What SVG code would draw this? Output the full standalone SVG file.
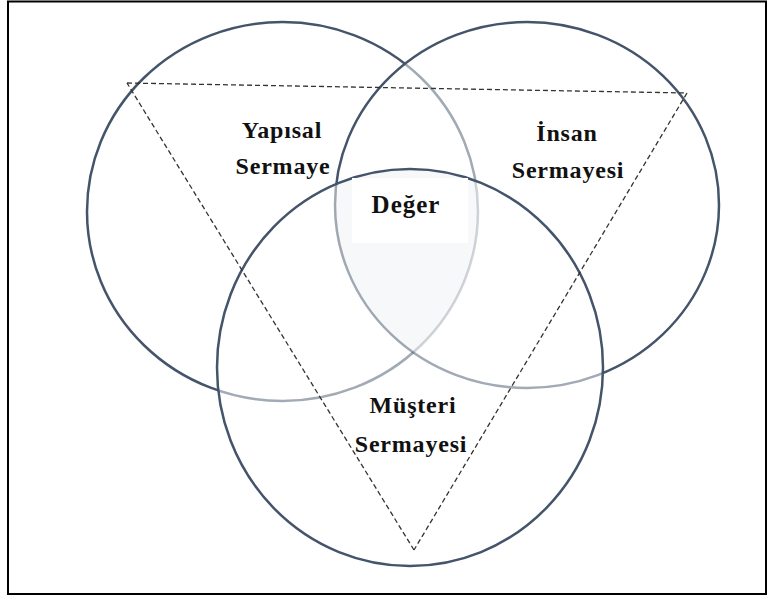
<svg xmlns="http://www.w3.org/2000/svg" width="775" height="599" viewBox="0 0 775 599">
  <style>
    .circle { fill: none; stroke: #44546A; stroke-width: 2.5; }
    .label { font-family: "Liberation Serif", "Times New Roman", serif; font-weight: bold; font-size: 24px; fill: #111; text-anchor: middle; letter-spacing: 0.8px; }
    .dash { fill: none; stroke: #333; stroke-width: 1.3; stroke-dasharray: 5 3; }
  </style>
  <defs>
    <clipPath id="clipLeft"><ellipse cx="282.5" cy="211.5" rx="195.5" ry="189.5"/></clipPath>
    <clipPath id="clipRight"><ellipse cx="527" cy="205" rx="192" ry="183"/></clipPath>
    <mask id="maskLeft" maskUnits="userSpaceOnUse" x="0" y="0" width="775" height="599">
      <rect x="0" y="0" width="775" height="599" fill="#fff"/>
      <ellipse cx="527" cy="205" rx="192" ry="183" fill="#000" fill-opacity="0.5"/>
      <ellipse cx="410" cy="367.5" rx="193" ry="198.5" fill="#000" fill-opacity="0.5"/>
    </mask>
    <mask id="maskRight" maskUnits="userSpaceOnUse" x="0" y="0" width="775" height="599">
      <rect x="0" y="0" width="775" height="599" fill="#fff"/>
      <ellipse cx="410" cy="367.5" rx="193" ry="198.5" fill="#000" fill-opacity="0.5"/>
    </mask>
  </defs>

  <rect x="8" y="1.5" width="758" height="592.5" fill="#fff" stroke="#000" stroke-width="2"/>

  <g id="center-region">
    <g clip-path="url(#clipRight)">
      <g clip-path="url(#clipLeft)">
        <ellipse cx="410" cy="367.5" rx="193" ry="198.5" fill="#f7f8fa"/>
      </g>
    </g>
  </g>

  <g id="node-yapisal">
    <ellipse class="circle" cx="282.5" cy="211.5" rx="195.5" ry="189.5" mask="url(#maskLeft)"/>
    <text class="label" x="282" y="138">Yapısal</text>
    <text class="label" x="283" y="174">Sermaye</text>
  </g>

  <g id="node-insan">
    <ellipse class="circle" cx="527" cy="205" rx="192" ry="183" mask="url(#maskRight)"/>
    <text class="label" x="567" y="141">İnsan</text>
    <text class="label" x="568" y="178">Sermayesi</text>
  </g>

  <g id="node-musteri">
    <ellipse class="circle" cx="410" cy="367.5" rx="193" ry="198.5"/>
    <text class="label" x="413" y="413">Müşteri</text>
    <text class="label" x="411" y="452">Sermayesi</text>
  </g>

  <g id="node-deger">
    <rect x="352" y="178" width="116" height="65" fill="#fff"/>
    <text class="label" x="406" y="213" style="font-size:25px;letter-spacing:1px">Değer</text>
  </g>

  <g id="connectors">
    <line class="dash" x1="127" y1="83" x2="687" y2="93"/>
    <line class="dash" x1="687" y1="93" x2="414" y2="550"/>
    <line class="dash" x1="414" y1="550" x2="127" y2="83"/>
  </g>
</svg>
